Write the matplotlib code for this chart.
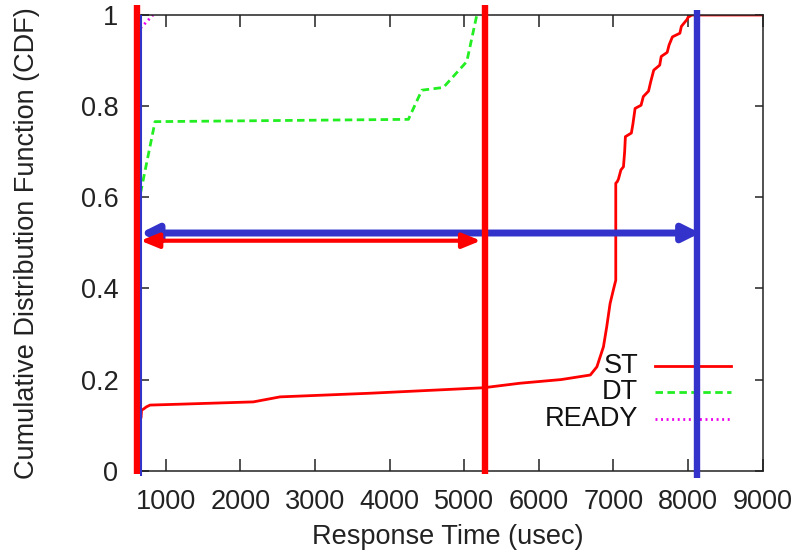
import matplotlib
matplotlib.use("Agg")
import matplotlib.pyplot as plt
from matplotlib.patches import ArrowStyle
from matplotlib.lines import Line2D

plt.rcParams['font.family'] = ['Liberation Sans', 'DejaVu Sans']

# Response time CDFs (usec, fraction)
st_x = [670, 676, 700, 740, 790, 1200, 2174, 2532, 3740, 5257, 5750, 6300, 6690,
        6778, 6866, 6910, 6955, 6999, 7031, 7031, 7050, 7067, 7100, 7134, 7150,
        7160, 7240, 7260, 7290, 7370, 7400, 7470, 7500, 7540, 7620, 7640, 7720,
        7745, 7790, 7890, 7910, 7945, 7985, 8000, 8050, 9000]
st_y = [0.118, 0.133, 0.135, 0.140, 0.144, 0.146, 0.151, 0.162, 0.170, 0.182,
        0.192, 0.200, 0.210, 0.228, 0.272, 0.316, 0.367, 0.397, 0.418, 0.631,
        0.634, 0.640, 0.660, 0.667, 0.700, 0.733, 0.741, 0.760, 0.795, 0.802,
        0.821, 0.833, 0.854, 0.879, 0.890, 0.909, 0.918, 0.934, 0.952, 0.960,
        0.975, 0.982, 0.990, 0.995, 1.000, 1.000]

dt_x = [662, 857, 4252, 4432, 4721, 5035, 5169]
dt_y = [0.609, 0.766, 0.771, 0.835, 0.841, 0.898, 1.000]

ready_x = [662, 830]
ready_y = [0.971, 1.000]

x_ticks = [1000, 2000, 3000, 4000, 5000, 6000, 7000, 8000, 9000]
y_ticks = [0, 0.2, 0.4, 0.6, 0.8, 1]
y_tick_labels = ["0", "0.2", "0.4", "0.6", "0.8", "1"]

x_min, x_max = 662, 9000

# Markers over the plot: range boundaries and spans
red_marks = [615, 5280]
blue_mark = 8122
blue_span = (x_min, 8161, 0.5216)
red_span = (x_min, 5222, 0.5047)

FS = 19.5
W, H = 797, 553
fig = plt.figure(figsize=(W / 100, H / 100), dpi=100)
ax = fig.add_axes([140.5 / W, 82.3 / H, (762.7 - 140.5) / W, (470.7 - 15) / H])

st_style = dict(color='#ff0000', lw=2.0)
dt_style = dict(color='#22ee22', lw=2.0, dashes=(2.7, 1.6))
ready_style = dict(color='#ee00ee', lw=2.0, dashes=(0.7, 1.3))

ax.plot(st_x, st_y, **st_style)
ax.plot(dt_x, dt_y, **dt_style)
ax.plot(ready_x, ready_y, **ready_style)

ax.set_xlim(x_min, x_max)
ax.set_ylim(0, 1)
ax.set_xticks(x_ticks)
ax.set_xticklabels([str(t) for t in x_ticks])
ax.set_yticks(y_ticks)
ax.set_yticklabels(y_tick_labels)

txt = '#222222'
ax.tick_params(axis='both', direction='in', top=True, right=True, width=1.1,
               labelsize=FS, colors='#222222', labelcolor=txt)
ax.tick_params(axis='x', length=8.5, pad=13)
ax.tick_params(axis='y', length=5.6, pad=16)
for s in ax.spines.values():
    s.set_linewidth(1.1)
    s.set_color('#222222')

ax.set_xlabel('Response Time (usec)', fontsize=FS, color=txt)
ax.set_ylabel('Cumulative Distribution Function (CDF)', fontsize=FS, color=txt)
ax.xaxis.set_label_coords(0.494, -0.1455)
ax.xaxis.label.set_verticalalignment('center')
ax.yaxis.set_label_coords(-0.1824, 0.5)
ax.yaxis.label.set_verticalalignment('center')

# Legend: right-aligned names with line samples
leg_rows = [("ST", st_style), ("DT", dt_style), ("READY", ready_style)]
leg_y = [0.2298, 0.172, 0.1145]
for (name, style), yy in zip(leg_rows, leg_y):
    ax.text(0.7996, yy, name, transform=ax.transAxes, ha='right', va='center',
            fontsize=FS, color='#111111')
    ax.add_line(Line2D([0.827, 0.949], [yy, yy], transform=ax.transAxes, **style))

# Vertical range markers
for xm in red_marks:
    ax.plot([xm, xm], [-0.008, 1.022], color='#ff0000', lw=4.6,
            clip_on=False, solid_capstyle='butt', zorder=5)
ax.plot([x_min, x_min], [-0.012, 1.0], color='#3333cc', lw=1.5,
        clip_on=False, solid_capstyle='butt', zorder=6)
ax.plot([blue_mark, blue_mark], [-0.016, 1.011], color='#3333cc', lw=4.6,
        clip_on=False, solid_capstyle='butt', zorder=5)

# Double-headed spans
x0, x1, yb = blue_span
ax.annotate('', xy=(x1, yb), xytext=(x0, yb), annotation_clip=False,
            arrowprops=dict(arrowstyle=ArrowStyle('<|-|>', head_length=0.9, head_width=0.45),
                            mutation_scale=11, lw=5, color='#3333cc',
                            shrinkA=0, shrinkB=0), zorder=4)
x0, x1, yr = red_span
ax.annotate('', xy=(x1, yr), xytext=(x0, yr), annotation_clip=False,
            arrowprops=dict(arrowstyle=ArrowStyle('<|-|>', head_length=1.1, head_width=0.45),
                            mutation_scale=10, lw=3, color='#ff0000',
                            shrinkA=0, shrinkB=0), zorder=4)

fig.savefig('out.png', dpi=100, facecolor='white')
